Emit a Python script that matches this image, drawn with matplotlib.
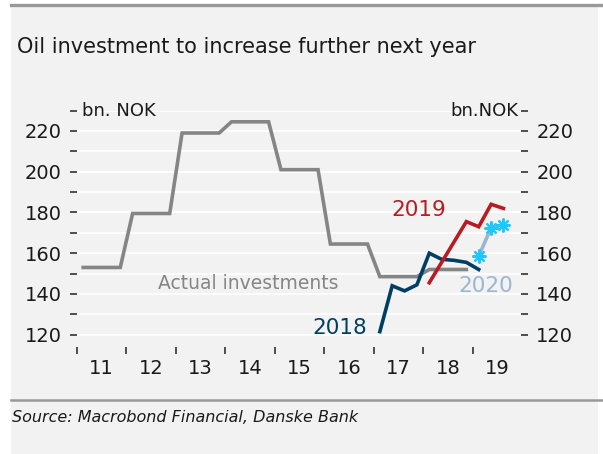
#!/usr/bin/env python3
"""
Oil investment chart: actual investments and investment-intention forecasts
for 2018, 2019 and 2020 (bn. NOK), quarterly survey vintages.
"""

import matplotlib
matplotlib.use('Agg')
import matplotlib.pyplot as plt
from matplotlib.patches import Rectangle
from matplotlib.lines import Line2D

# ---- data ----
actual_quarters = [f'{y}Q{q}' for y in range(2011, 2019) for q in range(1, 5)]
actual_values = [
    153.0, 153.0, 153.0, 153.0,   # 2011
    179.5, 179.5, 179.5, 179.5,   # 2012
    219.0, 219.0, 219.0, 219.0,   # 2013
    224.5, 224.5, 224.5, 224.5,   # 2014
    201.0, 201.0, 201.0, 201.0,   # 2015
    164.5, 164.5, 164.5, 164.5,   # 2016
    148.5, 148.5, 148.5, 148.5,   # 2017
    152.0, 152.0, 152.0, 152.0,   # 2018
]

fc2018_quarters = ['2017Q1', '2017Q2', '2017Q3', '2017Q4',
                   '2018Q1', '2018Q2', '2018Q3', '2018Q4', '2019Q1']
fc2018_values = [121.5, 144.0, 141.5, 144.5, 160.0, 157.0, 156.5, 155.5, 152.0]

fc2019_quarters = ['2018Q1', '2018Q2', '2018Q3', '2018Q4',
                   '2019Q1', '2019Q2', '2019Q3']
fc2019_values = [145.5, 155.5, 165.5, 175.5, 173.0, 184.0, 182.0]

fc2020_quarters = ['2019Q1', '2019Q2', '2019Q3']
fc2020_values = [158.5, 172.5, 174.0]

year_labels = ['11', '12', '13', '14', '15', '16', '17', '18', '19']

# ---- colours ----
BG = '#f2f2f2'
GRAY = '#858585'
NAVY = '#003f63'
RED = '#b81c22'
LIGHT_BLUE = '#9cb6cf'
CYAN = '#1ec8ff'
TEXT = '#1a1a1a'


def quarter_pos(label):
    """'2017Q3' -> position at the middle of that quarter in year units."""
    year, q = label.split('Q')
    return int(year) + (int(q) - 0.5) / 4


plt.rcParams['font.family'] = 'DejaVu Sans'

fig = plt.figure(figsize=(6.03, 4.54), dpi=100, facecolor='white')

# panel background, top bar and source separator
fig.patches.append(Rectangle((11 / 603, 0), 587 / 603, 449 / 454,
                             transform=fig.transFigure, facecolor=BG,
                             edgecolor='none', zorder=-10))
fig.lines.append(Line2D([11 / 603, 1], [449.5 / 454, 449.5 / 454],
                        transform=fig.transFigure, color='#999999', lw=2.4))
fig.lines.append(Line2D([11 / 603, 1], [1 - 400 / 454, 1 - 400 / 454],
                        transform=fig.transFigure, color='#999999', lw=1.8))

fig.text(17 / 603, 1 - 47 / 454, 'Oil investment to increase further next year',
         fontsize=15, color=TEXT, ha='left', va='center')
fig.text(12 / 603, 1 - 418 / 454, 'Source: Macrobond Financial, Danske Bank',
         fontsize=11.5, style='italic', color=TEXT, ha='left', va='center')

ax = fig.add_axes([77 / 603, 1 - 346.9 / 454, 444 / 603, 236.3 / 454])
ax.set_facecolor(BG)
ax.set_xlim(2011.03, 2019.98)
ax.set_ylim(114.0, 230.0)

# gridlines every 10
yt = list(range(120, 231, 10))
ax.set_yticks(yt)
ax.set_yticklabels([str(v) if v % 20 == 0 and v <= 220 else '' for v in yt])
ax.grid(axis='y', color='white', lw=1.3)
ax.set_axisbelow(True)
for s in ax.spines.values():
    s.set_visible(False)

ax.tick_params(axis='y', which='both', direction='out', length=5, width=1.2,
               color='#333333', labelsize=14, labelcolor=TEXT, pad=6,
               left=True, right=True, labelleft=True, labelright=True)

# x: tick marks at year starts, labels at mid-year
ax.set_xticks(range(2011, 2020))
ax.set_xticklabels([''] * 9)
ax.set_xticks([y + 0.5 for y in range(2011, 2020)], minor=True)
ax.set_xticklabels(year_labels, minor=True)
ax.tick_params(axis='x', which='major', direction='out', length=5, width=1.2,
               color='#333333')
ax.tick_params(axis='x', which='minor', length=0, labelsize=14,
               labelcolor=TEXT, pad=9)

# series
ax.plot([quarter_pos(q) for q in actual_quarters], actual_values,
        color=GRAY, lw=2.6, solid_joinstyle='miter', zorder=3)
ax.plot([quarter_pos(q) for q in fc2018_quarters], fc2018_values,
        color=NAVY, lw=2.6, solid_joinstyle='miter', zorder=4)
ax.plot([quarter_pos(q) for q in fc2019_quarters], fc2019_values,
        color=RED, lw=2.6, solid_joinstyle='miter', zorder=5)
ax.plot([quarter_pos(q) for q in fc2020_quarters], fc2020_values,
        color=LIGHT_BLUE, lw=2.6, zorder=5)
ax.plot([quarter_pos(q) for q in fc2020_quarters], fc2020_values,
        linestyle='none', marker=(8, 2, 0), markersize=10, mew=1.6,
        color=CYAN, zorder=6)

# series labels
ax.text(2014.47, 145.0, 'Actual investments', color=GRAY, fontsize=13.5,
        ha='center', va='center')
ax.text(2016.32, 123.4, '2018', color=NAVY, fontsize=15.5,
        ha='center', va='center')
ax.text(2017.91, 181.3, '2019', color=RED, fontsize=15.5,
        ha='center', va='center')
ax.text(2019.26, 144.0, '2020', color=LIGHT_BLUE, fontsize=15.5,
        ha='center', va='center')

# unit labels at the top tick
ax.text(2011.1, 230, 'bn. NOK', color=TEXT, fontsize=13, ha='left',
        va='center')
ax.text(2019.92, 230, 'bn.NOK', color=TEXT, fontsize=13, ha='right',
        va='center')

fig.savefig('out.png', dpi=100, facecolor=fig.get_facecolor())
